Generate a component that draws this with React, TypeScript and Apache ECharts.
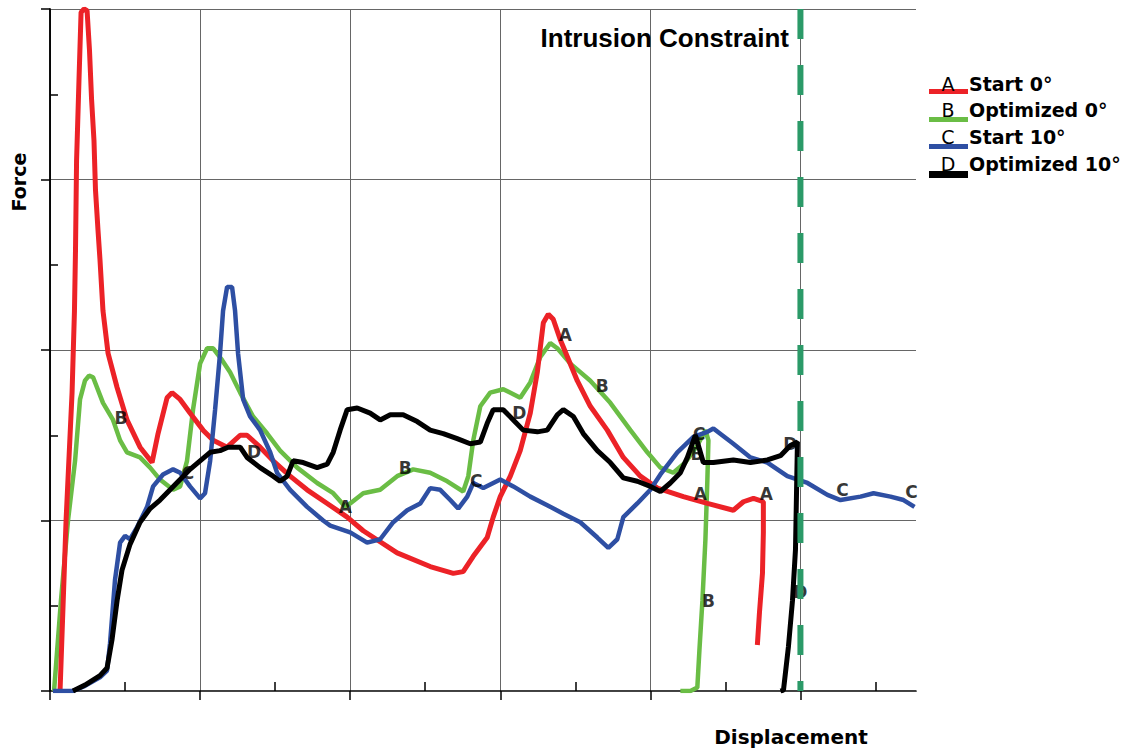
import React, { useEffect, useRef } from 'react';
import * as echarts from 'echarts';

const seriesNames = ['Start 0°', 'Optimized 0°', 'Start 10°', 'Optimized 10°'];
const seriesLetters = ['A', 'B', 'C', 'D'];
const seriesColors = ['#ec2227', '#6abd45', '#2e4fa3', '#000000'];
const seriesWidths = [5, 4.5, 4.5, 5];
const constraintX = 500;
const constraintLabel = 'Intrusion Constraint';
const xAxisName = 'Displacement';
const yAxisName = 'Force';
const xMax = 577;
const yMax = 400;
const xMajorTicks = [0, 100, 200, 300, 400, 500];
const xMinorTicks = [50, 150, 250, 350, 450, 550];
const yMajorTicks = [0, 100, 200, 300, 400];
const yMinorTicks = [50, 150, 250, 350];

const curveA = [[6.7,0],[10.7,100],[14.7,175],[16.3,223],[17,259],[17.7,311],[19.3,358],[20.7,398],[22.7,400],[24.7,399],[26.3,376],[27.7,347],[29.3,323],[30.3,294],[32,270],[33.3,253],[35.3,223],[38.7,198],[44.7,178],[51.3,159],[60,143],[68,134],[72,151],[78,172],[81.3,175],[86.7,171],[93.3,163],[102,153],[108.7,147],[118,143],[126.7,150],[131.3,150],[140,143],[148.7,135],[160,126],[171.3,118],[184.7,110],[198,102],[208.7,94],[231.3,81],[253.3,73],[268.7,69],[275.3,70],[282,79],[291.3,90],[295.3,102],[300,114],[306.7,126],[313.3,141],[320,163],[324.7,187],[328.7,216],[332,221],[335.3,218],[340,206],[344.7,196],[351.3,182],[360,167],[371.3,153],[382,137],[393.3,126],[404.7,119],[422,114],[438,110],[455.3,106],[462,111],[468.7,113],[475.3,111],[475.3,93],[474.7,69],[472.7,46],[471.3,27]];

const curveB = [[2.7,0],[7.3,53],[12,100],[16.7,135],[20,171],[23.3,182],[26,185],[28.7,184],[35.3,169],[42,159],[46.7,147],[51.3,140],[60,137],[66.7,131],[73.3,124],[82,118],[86.7,120],[91.3,135],[95.3,165],[100,192],[104.7,201],[108.7,201],[114.7,194],[120,187],[126.7,175],[135.3,161],[144.7,151],[153.3,141],[164.7,131],[178,122],[188.7,116],[196.7,108],[200,110],[208.7,116],[220,118],[231.3,126],[242,130],[253.3,128],[264.7,123],[275.3,117],[278.7,126],[282,147],[286.7,167],[293.3,175],[302,177],[313.3,172],[320,181],[326.7,196],[333.3,204],[338,201],[346.7,192],[360,182],[373.3,169],[386.7,153],[398,140],[406.7,131],[415.3,128],[423.3,134],[431.3,144],[436.7,153],[438.7,147],[438,124],[436.7,89],[434.7,53],[432.7,24],[431.3,2],[426.7,0],[420,0]];

const curveC = [[2,0],[15.3,0],[23.3,3],[33.3,8],[38,12],[40,28],[43.3,65],[46.7,87],[50,91],[53.3,89],[58,96],[64.7,108],[68.7,120],[75.3,127],[82,130],[86.7,128],[93.3,120],[100,113],[103.3,116],[106.7,135],[110,165],[113.3,198],[115.3,223],[118,237],[121.3,237],[123.3,223],[125.3,198],[128.7,171],[133.3,161],[140,153],[146.7,140],[151.3,128],[160,118],[171.3,108],[182,100],[186.7,97],[200,93],[211.3,87],[220,89],[228.7,99],[238,106],[246.7,110],[253.3,119],[260,118],[266.7,112],[272,107],[278,114],[282,122],[288.7,119],[300,124],[308.7,120],[320,114],[331.3,109],[342,104],[353.3,99],[364.7,90],[372,84],[378,89],[382,102],[391.3,110],[400,118],[406.7,127],[418,140],[428.7,149],[438,152],[442,154],[455.3,145],[466.7,137],[478,134],[491.3,126],[504.7,122],[518,115],[526.7,112],[540,114],[548.7,116],[560,114],[568.7,112],[576,108]];

const curveD = [[15.3,0],[23.3,3.5],[33.3,9],[38,13.5],[41.3,30],[44.7,53],[48,71],[53.3,86],[60,99],[66.7,107],[73.3,112],[80,118],[86.7,124],[93.3,130],[100,135],[106.7,140],[113.3,141],[118.7,143],[126.7,143],[131.3,137],[140,131],[148.7,126],[153.3,123],[158,126],[162,135],[168.7,134],[178,131],[184.7,133],[188.7,140],[193.3,153],[198,165],[204.7,166],[213.3,163],[220,159],[226.7,162],[235.3,162],[244.7,158],[253.3,153],[262,151],[271.3,148],[280,145],[286.7,146],[291.3,157],[295.3,165],[302,165],[308.7,159],[315.3,153],[324.7,152],[331.3,153],[338,162],[342,165],[348.7,161],[355.3,151],[364.7,141],[373.3,134],[382,125],[391.3,123],[400,120],[406.7,117],[413.3,122],[420,128],[424.7,137],[430,150],[435.3,134],[442,134],[455.3,135.5],[466.7,134],[478,135.5],[486.7,138],[493.3,144],[498,146],[496.7,83],[494.7,53],[492,26],[488.7,0.5],[486.7,0]];

const labelsA = [[343.3,209],[196.7,108],[433.3,115.5],[477.3,115.5]];
const labelsB = [[47.3,160],[236.7,131],[368,179],[431,139],[438.7,53]];
const labelsC = [[92,128],[284,123],[432.5,151],[528,118],[574,117]];
const labelsD = [[136,140],[312.7,163],[493.3,145],[500,58]];

const curves = [curveA, curveB, curveC, curveD];
const labelSets = [labelsA, labelsB, labelsC, labelsD];

export default function App() {
  const ref = useRef<HTMLDivElement>(null);
  useEffect(() => {
    if (!ref.current) return;
    const chart = echarts.init(ref.current, undefined, { renderer: 'svg' });
    const tickStyle = { color: '#000', width: 1.5 };
    const drawOrder = [1, 0, 2, 3];
    const lineSeries: any[] = drawOrder.map((i) => ({
      type: 'line',
      name: seriesNames[i],
      data: curves[i],
      showSymbol: false,
      symbol: 'none',
      lineStyle: { color: seriesColors[i], width: seriesWidths[i] },
      z: 2,
      silent: true,
    }));
    const labelSeries: any[] = labelSets.map((set, i) => ({
      type: 'scatter',
      name: seriesLetters[i],
      data: set,
      symbolSize: 1,
      itemStyle: { color: 'rgba(0,0,0,0)' },
      label: {
        show: true,
        position: 'inside',
        formatter: seriesLetters[i],
        color: '#000',
        fontSize: 17,
        fontWeight: 'bold',
        fontFamily: 'DejaVu Sans',
      },
      z: 3,
      silent: true,
    }));
    const constraintSeries = {
      type: 'line',
      name: constraintLabel,
      data: [[constraintX, yMax], [constraintX, 0]],
      showSymbol: false,
      symbol: 'none',
      lineStyle: { color: '#2b9a68', width: 6, type: [30, 26] },
      z: 5,
      silent: true,
    };

    const legendRowY = [84, 110, 137, 164];
    const legendBarY = [89, 117, 144, 171];
    const legendBarH = [5, 5, 5, 7];
    const legendGraphics: any[] = [];
    seriesNames.forEach((n, i) => {
      legendGraphics.push({
        type: 'rect',
        shape: { x: 929, y: legendBarY[i], width: 39, height: legendBarH[i] },
        style: { fill: seriesColors[i] },
      });
      legendGraphics.push({
        type: 'text',
        x: 948,
        y: legendRowY[i],
        style: {
          text: seriesLetters[i],
          fill: '#000',
          font: '19px "DejaVu Sans"',
          textAlign: 'center',
          textVerticalAlign: 'middle',
        },
      });
      legendGraphics.push({
        type: 'text',
        x: 969,
        y: legendRowY[i],
        style: {
          text: n,
          fill: '#000',
          font: 'bold 19px "DejaVu Sans"',
          textAlign: 'left',
          textVerticalAlign: 'middle',
        },
      });
    });

    chart.setOption({
      animation: false,
      backgroundColor: '#fff',
      grid: { left: 50, top: 9, width: 866, height: 682 },
      xAxis: [
        {
          type: 'value', min: 0, max: xMax, interval: 100, position: 'bottom',
          axisLine: { show: true, lineStyle: tickStyle },
          axisTick: { show: true, inside: false, length: 9, lineStyle: tickStyle, customValues: xMajorTicks },
          axisLabel: { show: false },
          splitLine: { show: true, lineStyle: { color: '#666', width: 1 } },
        },
        {
          type: 'value', min: 0, max: xMax, interval: 50, position: 'bottom',
          axisLine: { show: false },
          axisTick: { show: true, inside: true, length: 9, lineStyle: tickStyle, customValues: xMinorTicks },
          axisLabel: { show: false },
          splitLine: { show: false },
        },
        {
          type: 'value', min: 0, max: xMax, position: 'top',
          axisLine: { show: true, lineStyle: { color: '#444', width: 1 } },
          axisTick: { show: false }, axisLabel: { show: false }, splitLine: { show: false },
        },
      ],
      yAxis: [
        {
          type: 'value', min: 0, max: yMax, interval: 100, position: 'left',
          axisLine: { show: true, lineStyle: tickStyle },
          axisTick: { show: true, inside: false, length: 9, lineStyle: tickStyle, customValues: yMajorTicks },
          axisLabel: { show: false },
          splitLine: { show: true, lineStyle: { color: '#666', width: 1 } },
        },
        {
          type: 'value', min: 0, max: yMax, interval: 50, position: 'left',
          axisLine: { show: false },
          axisTick: { show: true, inside: true, length: 8, lineStyle: tickStyle, customValues: yMinorTicks },
          axisLabel: { show: false },
          splitLine: { show: false },
        },
        {
          type: 'value', min: 0, max: yMax, position: 'right',
          axisLine: { show: true, lineStyle: { color: '#000', width: 1.5 } },
          axisTick: { show: false }, axisLabel: { show: false }, splitLine: { show: false },
        },
      ],
      series: [...lineSeries, ...labelSeries, constraintSeries],
      graphic: [
        {
          type: 'text', x: 789, y: 38, z: 10,
          style: { text: constraintLabel, fill: '#000', font: 'bold 26px "Liberation Sans"', textAlign: 'right', textVerticalAlign: 'middle' },
        },
        {
          type: 'text', x: 19, y: 182, rotation: Math.PI / 2,
          style: { text: yAxisName, fill: '#000', font: 'bold 19px "DejaVu Sans"', textAlign: 'center', textVerticalAlign: 'middle' },
        },
        {
          type: 'text', x: 791, y: 737,
          style: { text: xAxisName, fill: '#000', font: 'bold 20px "DejaVu Sans"', textAlign: 'center', textVerticalAlign: 'middle' },
        },
        ...legendGraphics,
      ],
    });
    return () => chart.dispose();
  }, []);
  return <div ref={ref} style={{ width: 1128, height: 751, position: 'absolute', left: 0, top: 0 }} />;
}
